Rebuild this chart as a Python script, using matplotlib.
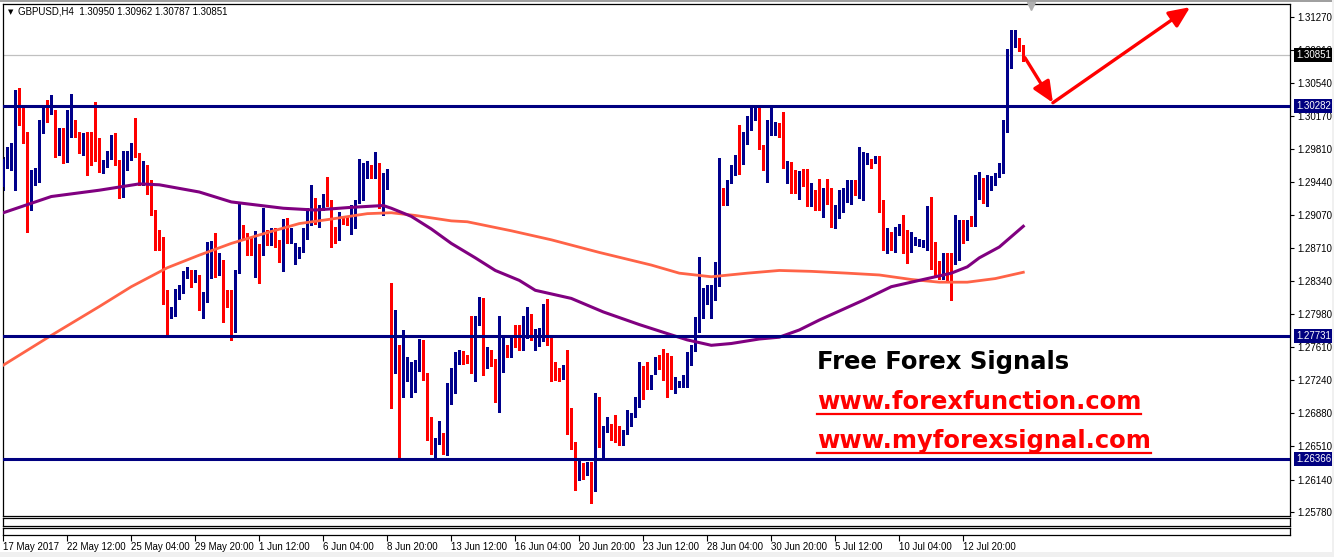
import matplotlib.pyplot as plt
from matplotlib.lines import Line2D
from matplotlib.patches import Rectangle

plt.rcParams['font.family'] = ['Liberation Sans', 'DejaVu Sans']

# GBPUSD H4 candles (bar index 0 = first visible bar)
opens = [
    1.2939, 1.2968, 1.2970, 1.2971, 1.3019, 1.3016, 1.2993, 1.2920,
    1.2952, 1.2954, 1.3000, 1.3023, 1.3021, 1.3000, 1.2980, 1.2998,
    1.2974, 1.3009, 1.3012, 1.2994, 1.2980, 1.2991, 1.2985, 1.2983,
    1.2991, 1.2955, 1.2964, 1.2973, 1.2991, 1.2967, 1.2931, 1.2957,
    1.2969, 1.2985, 1.2975, 1.2956, 1.2958, 1.2931, 1.2910, 1.2881,
    1.2872, 1.2814, 1.2794, 1.2797, 1.2823, 1.2827, 1.2839, 1.2846,
    1.2840, 1.2839, 1.2803, 1.2812, 1.2847, 1.2859, 1.2842, 1.2857,
    1.2818, 1.2811, 1.2779, 1.2843, 1.2889, 1.2885, 1.2880, 1.2868,
    1.2873, 1.2864, 1.2885, 1.2877, 1.2889, 1.2875, 1.2856, 1.2885,
    1.2883, 1.2855, 1.2865, 1.2869, 1.2890, 1.2897, 1.2924, 1.2898,
    1.2915, 1.2927, 1.2923, 1.2890, 1.2883, 1.2905, 1.2902, 1.2897,
    1.2907, 1.2922, 1.2925, 1.2949, 1.2960, 1.2949, 1.2960, 1.2922,
    1.2936, 1.2822, 1.2735, 1.2762, 1.2718, 1.2724, 1.2739, 1.2711,
    1.2742, 1.2752, 1.2730, 1.2674, 1.2650, 1.2657, 1.2664, 1.2654,
    1.2699, 1.2721, 1.2743, 1.2752, 1.2748, 1.2746, 1.2740, 1.2787,
    1.2794, 1.2740, 1.2752, 1.2746, 1.2704, 1.2739, 1.2757, 1.2752,
    1.2773, 1.2769, 1.2766, 1.2775, 1.2784, 1.2761, 1.2769, 1.2769,
    1.2805, 1.2769, 1.2743, 1.2733, 1.2727, 1.2737, 1.2691, 1.2651,
    1.2624, 1.2628, 1.2621, 1.2631, 1.2607, 1.2701, 1.2657, 1.2670,
    1.2674, 1.2672, 1.2662, 1.2654, 1.2666, 1.2680, 1.2686, 1.2700,
    1.2731, 1.2723, 1.2715, 1.2731, 1.2746, 1.2742, 1.2738, 1.2737,
    1.2724, 1.2718, 1.2718, 1.2729, 1.2747, 1.2758, 1.2781, 1.2813,
    1.2813, 1.2817, 1.2826, 1.2830, 1.2931, 1.2920, 1.2945, 1.2953,
    1.2974, 1.2967, 1.2987, 1.3004, 1.3017, 1.3024, 1.2984, 1.2969,
    1.3007, 1.2997, 1.3007, 1.2996, 1.2961, 1.2966, 1.2957, 1.2933,
    1.2952, 1.2951, 1.2924, 1.2930, 1.2928, 1.2905, 1.2933, 1.2924,
    1.2902, 1.2913, 1.2922, 1.2930, 1.2930, 1.2940, 1.2931, 1.2950,
    1.2968, 1.2968, 1.2967, 1.2969, 1.2923, 1.2874, 1.2886, 1.2869,
    1.2888, 1.2893, 1.2878, 1.2876, 1.2876, 1.2874, 1.2876, 1.2870,
    1.2912, 1.2876, 1.2848, 1.2847, 1.2863, 1.2854, 1.2853, 1.2891,
    1.2899, 1.2891, 1.2899, 1.2896, 1.2927, 1.2942, 1.2922, 1.2936,
    1.2942, 1.2952, 1.2955, 1.3011, 1.3078, 1.3094, 1.3102, 1.30950,
]
highs = [
    1.2972, 1.2983, 1.2987, 1.3046, 1.3048, 1.3028, 1.3000, 1.2957,
    1.2960, 1.3013, 1.3029, 1.3035, 1.3041, 1.3024, 1.3004, 1.3004,
    1.3024, 1.3042, 1.3013, 1.3000, 1.2998, 1.3000, 1.3000, 1.3033,
    1.2993, 1.2968, 1.2978, 1.2996, 1.2998, 1.2968, 1.2978, 1.2978,
    1.2987, 1.3015, 1.2976, 1.2967, 1.2963, 1.2946, 1.2913, 1.2891,
    1.2883, 1.2824, 1.2806, 1.2825, 1.2830, 1.2845, 1.2850, 1.2846,
    1.2846, 1.2841, 1.2822, 1.2878, 1.2879, 1.2887, 1.2865, 1.2858,
    1.2824, 1.2824, 1.2846, 1.2920, 1.2896, 1.2887, 1.2883, 1.2890,
    1.2875, 1.2915, 1.2891, 1.2893, 1.2893, 1.2880, 1.2903, 1.2904,
    1.2893, 1.2876, 1.2872, 1.2893, 1.2915, 1.2941, 1.2926, 1.2919,
    1.2931, 1.2950, 1.2924, 1.2894, 1.2911, 1.2906, 1.2905, 1.2919,
    1.2924, 1.2970, 1.2965, 1.2967, 1.2963, 1.2977, 1.2965, 1.2954,
    1.2958, 1.2832, 1.2802, 1.2763, 1.2780, 1.2750, 1.2745, 1.2747,
    1.2770, 1.2769, 1.2732, 1.2684, 1.2660, 1.2679, 1.2666, 1.2721,
    1.2738, 1.2756, 1.2758, 1.2757, 1.2752, 1.2796, 1.2796, 1.2817,
    1.2815, 1.2761, 1.2758, 1.2748, 1.2795, 1.2772, 1.2763, 1.2774,
    1.2785, 1.2785, 1.2796, 1.2806, 1.2798, 1.2781, 1.2782, 1.2809,
    1.2814, 1.2771, 1.2745, 1.2738, 1.2741, 1.2758, 1.2693, 1.2656,
    1.2636, 1.2633, 1.2634, 1.2634, 1.2710, 1.2706, 1.2673, 1.2684,
    1.2676, 1.2686, 1.2673, 1.2669, 1.2691, 1.2688, 1.2706, 1.2745,
    1.2740, 1.2745, 1.2730, 1.2750, 1.2752, 1.2759, 1.2754, 1.2751,
    1.2728, 1.2723, 1.2730, 1.2756, 1.2763, 1.2794, 1.2861, 1.2826,
    1.2830, 1.2830, 1.2855, 1.2971, 1.2938, 1.2946, 1.2963, 1.2974,
    1.3007, 1.3000, 1.3017, 1.3028, 1.3028, 1.3026, 1.2985, 1.3013,
    1.3028, 1.3011, 1.3010, 1.3022, 1.2967, 1.2966, 1.2957, 1.2956,
    1.2958, 1.2958, 1.2943, 1.2935, 1.2947, 1.2937, 1.2947, 1.2937,
    1.2919, 1.2935, 1.2937, 1.2946, 1.2946, 1.2946, 1.2983, 1.2977,
    1.2976, 1.2970, 1.2973, 1.2973, 1.2924, 1.2893, 1.2889, 1.2894,
    1.2898, 1.2907, 1.2891, 1.2889, 1.2883, 1.2881, 1.2880, 1.2917,
    1.2928, 1.2878, 1.2856, 1.2865, 1.2865, 1.2865, 1.2907, 1.2902,
    1.2902, 1.2902, 1.2906, 1.2952, 1.2955, 1.2949, 1.2952, 1.2951,
    1.2954, 1.2965, 1.3013, 1.3092, 1.3113, 1.3113, 1.3104, 1.30962,
]
lows = [
    1.2935, 1.2960, 1.2957, 1.2935, 1.3007, 1.2987, 1.2889, 1.2913,
    1.2941, 1.2944, 1.2998, 1.3011, 1.3019, 1.2972, 1.2974, 1.2965,
    1.2966, 1.2994, 1.2994, 1.2976, 1.2974, 1.2952, 1.2963, 1.2967,
    1.2955, 1.2954, 1.2961, 1.2970, 1.2963, 1.2926, 1.2928, 1.2957,
    1.2968, 1.2972, 1.2941, 1.2941, 1.2931, 1.2907, 1.2869, 1.2869,
    1.2809, 1.2773, 1.2793, 1.2796, 1.2814, 1.2821, 1.2838, 1.2828,
    1.2833, 1.2802, 1.2793, 1.2811, 1.2838, 1.2839, 1.2841, 1.2789,
    1.2806, 1.2769, 1.2778, 1.2843, 1.2882, 1.2863, 1.2863, 1.2839,
    1.2832, 1.2863, 1.2874, 1.2874, 1.2872, 1.2855, 1.2845, 1.2876,
    1.2877, 1.2853, 1.2860, 1.2866, 1.2881, 1.2896, 1.2898, 1.2894,
    1.2913, 1.2917, 1.2872, 1.2877, 1.2880, 1.2898, 1.2896, 1.2886,
    1.2893, 1.2921, 1.2924, 1.2948, 1.2948, 1.2948, 1.2915, 1.2907,
    1.2936, 1.2693, 1.2732, 1.2636, 1.2706, 1.2723, 1.2706, 1.2711,
    1.2735, 1.2724, 1.2658, 1.2643, 1.2638, 1.2654, 1.2643, 1.2641,
    1.2698, 1.2710, 1.2742, 1.2742, 1.2743, 1.2732, 1.2723, 1.2785,
    1.2730, 1.2738, 1.2740, 1.2700, 1.2689, 1.2733, 1.2750, 1.2750,
    1.2761, 1.2758, 1.2758, 1.2771, 1.2769, 1.2758, 1.2762, 1.2768,
    1.2763, 1.2723, 1.2725, 1.2723, 1.2726, 1.2665, 1.2648, 1.2602,
    1.2614, 1.2615, 1.2619, 1.2588, 1.2601, 1.2650, 1.2639, 1.2667,
    1.2658, 1.2656, 1.2652, 1.2652, 1.2665, 1.2674, 1.2684, 1.2695,
    1.2704, 1.2714, 1.2715, 1.2731, 1.2737, 1.2725, 1.2706, 1.2714,
    1.2710, 1.2717, 1.2717, 1.2717, 1.2741, 1.2757, 1.2778, 1.2793,
    1.2809, 1.2793, 1.2813, 1.2829, 1.2919, 1.2919, 1.2943, 1.2952,
    1.2953, 1.2964, 1.2986, 1.3002, 1.3013, 1.2981, 1.2957, 1.2944,
    1.2996, 1.2996, 1.2994, 1.2960, 1.2943, 1.2932, 1.2932, 1.2925,
    1.2940, 1.2917, 1.2917, 1.2913, 1.2913, 1.2905, 1.2920, 1.2894,
    1.2893, 1.2904, 1.2911, 1.2922, 1.2920, 1.2930, 1.2926, 1.2924,
    1.2964, 1.2960, 1.2965, 1.2911, 1.2869, 1.2865, 1.2869, 1.2867,
    1.2885, 1.2865, 1.2854, 1.2867, 1.2874, 1.2873, 1.2872, 1.2869,
    1.2848, 1.2839, 1.2837, 1.2837, 1.2835, 1.2813, 1.2853, 1.2858,
    1.2876, 1.2880, 1.2895, 1.2895, 1.2925, 1.2921, 1.2918, 1.2935,
    1.2941, 1.2950, 1.2954, 1.2999, 1.3070, 1.3094, 1.3089, 1.30787,
]
closes = [
    1.2970, 1.2970, 1.2971, 1.3018, 1.3016, 1.2989, 1.2935, 1.2952,
    1.2957, 1.3002, 1.3023, 1.3021, 1.3033, 1.2980, 1.2998, 1.2974,
    1.3009, 1.3012, 1.2998, 1.2980, 1.2991, 1.2984, 1.2983, 1.2979,
    1.2959, 1.2965, 1.2974, 1.2991, 1.2965, 1.2931, 1.2974, 1.2970,
    1.2985, 1.2975, 1.2956, 1.2958, 1.2931, 1.2909, 1.2880, 1.2872,
    1.2814, 1.2794, 1.2804, 1.2824, 1.2828, 1.2839, 1.2846, 1.2834,
    1.2843, 1.2803, 1.2813, 1.2848, 1.2859, 1.2842, 1.2857, 1.2817,
    1.2809, 1.2779, 1.2845, 1.2889, 1.2888, 1.2874, 1.2868, 1.2873,
    1.2864, 1.2884, 1.2880, 1.2889, 1.2874, 1.2856, 1.2884, 1.2883,
    1.2890, 1.2865, 1.2871, 1.2891, 1.2897, 1.2924, 1.2902, 1.2915,
    1.2927, 1.2922, 1.2889, 1.2883, 1.2907, 1.2902, 1.2897, 1.2913,
    1.2923, 1.2926, 1.2959, 1.2960, 1.2949, 1.2960, 1.2922, 1.2937,
    1.2943, 1.2735, 1.2762, 1.2718, 1.2725, 1.2740, 1.2741, 1.2745,
    1.2752, 1.2729, 1.2673, 1.2650, 1.2659, 1.2664, 1.2654, 1.2699,
    1.2721, 1.2745, 1.2752, 1.2747, 1.2746, 1.2740, 1.2788, 1.2793,
    1.2750, 1.2752, 1.2744, 1.2704, 1.2739, 1.2757, 1.2754, 1.2773,
    1.2769, 1.2766, 1.2777, 1.2784, 1.2772, 1.2769, 1.2774, 1.2805,
    1.2769, 1.2743, 1.2736, 1.2727, 1.2737, 1.2691, 1.2650, 1.2624,
    1.2628, 1.2621, 1.2632, 1.2607, 1.2701, 1.2657, 1.2671, 1.2673,
    1.2672, 1.2661, 1.2654, 1.2667, 1.2681, 1.2686, 1.2700, 1.2731,
    1.2723, 1.2717, 1.2718, 1.2746, 1.2741, 1.2738, 1.2736, 1.2723,
    1.2725, 1.2721, 1.2729, 1.2748, 1.2760, 1.2781, 1.2813, 1.2821,
    1.2820, 1.2828, 1.2831, 1.2931, 1.2920, 1.2945, 1.2953, 1.2974,
    1.2967, 1.2989, 1.3004, 1.3017, 1.3024, 1.2983, 1.2969, 1.3007,
    1.3026, 1.3007, 1.2995, 1.2961, 1.2966, 1.2950, 1.2933, 1.2952,
    1.2950, 1.2924, 1.2930, 1.2925, 1.2916, 1.2933, 1.2923, 1.2902,
    1.2915, 1.2922, 1.2933, 1.2932, 1.2940, 1.2931, 1.2951, 1.2968,
    1.2970, 1.2962, 1.2969, 1.2922, 1.2874, 1.2886, 1.2880, 1.2889,
    1.2893, 1.2867, 1.2867, 1.2878, 1.2880, 1.2878, 1.2877, 1.2912,
    1.2876, 1.2847, 1.2843, 1.2863, 1.2852, 1.2851, 1.2891, 1.2899,
    1.2883, 1.2899, 1.2896, 1.2928, 1.2942, 1.2922, 1.2938, 1.2943,
    1.2953, 1.2957, 1.3011, 1.3079, 1.3102, 1.3102, 1.3094, 1.30851,
]

# moving averages, sampled at these bars
ma_slow_bars = [0, 12, 24, 34, 39, 49, 57, 70, 78, 87, 95, 97, 102, 107, 112,
                118, 123, 129, 133, 142, 150, 159, 166, 171, 177, 182, 189,
                194, 199, 204, 210, 215, 222, 232, 237, 241, 244, 249, 255]
ma_slow = [1.2910, 1.2928, 1.2935, 1.2942, 1.2941, 1.2933, 1.2922, 1.2915,
           1.2913, 1.2916, 1.2918, 1.2915, 1.2906, 1.2892, 1.2876, 1.2860,
           1.2846, 1.2835, 1.2824, 1.2815, 1.2800, 1.2786, 1.2776, 1.2769,
           1.2763, 1.2765, 1.2770, 1.2772, 1.2780, 1.2791, 1.2803, 1.2813,
           1.2828, 1.2838, 1.2843, 1.2850, 1.2860, 1.2872, 1.2895]
ma_long_bars = [0, 12, 24, 32, 41, 49, 57, 66, 74, 82, 91, 97, 103, 112, 116,
                127, 137, 149, 162, 169, 177, 186, 194, 202, 211, 219, 227,
                234, 241, 248, 255]
ma_long = [1.2741, 1.2774, 1.2806, 1.2828, 1.2849, 1.2863, 1.2876, 1.2888,
           1.2898, 1.2903, 1.2909, 1.2910, 1.2907, 1.2901, 1.2900, 1.2890,
           1.2880, 1.2866, 1.2852, 1.2843, 1.2839, 1.2843, 1.2846, 1.2845,
           1.2843, 1.2841, 1.2836, 1.2833, 1.2833, 1.2837, 1.2844]

levels = [1.30282, 1.27731, 1.26366]
last_price = 1.30851
price_ticks = [1.31270, 1.30910, 1.30540, 1.30170, 1.29810, 1.29440, 1.29070,
               1.28710, 1.28340, 1.27980, 1.27610, 1.27240, 1.26880, 1.26510,
               1.26140, 1.25780]
time_bars = [0, 16, 32, 48, 64, 80, 96, 112, 128, 144, 160, 176, 192, 208, 224, 240]
time_labels = ['17 May 2017', '22 May 12:00', '25 May 04:00', '29 May 20:00',
               '1 Jun 12:00', '6 Jun 04:00', '8 Jun 20:00', '13 Jun 12:00',
               '16 Jun 04:00', '20 Jun 20:00', '23 Jun 12:00', '28 Jun 04:00',
               '30 Jun 20:00', '5 Jul 12:00', '10 Jul 04:00', '12 Jul 20:00']
# forecast arrows: start, turn, target
arrow_bars = [255.4, 262.4, 296.7]
arrow_prices = [1.3082, 1.3032, 1.3138]

W, H = 1334, 557
fig = plt.figure(figsize=(W / 100, H / 100), dpi=100)
fig.patch.set_facecolor('white')


def pane(x0, y0, x1, y1):
    return fig.add_axes([x0 / W, 1 - y1 / H, (x1 - x0) / W, (y1 - y0) / H])


xlim = (-0.075, 321.675)
ax = pane(3, 4, 1290, 516)
ax.set_xlim(*xlim)
ax.set_ylim(1.25737, 1.31415)

bull, bear = '#00008B', '#FF0000'
navy = '#000080'
bars = list(range(len(opens)))
cols = [bull if c >= o else bear for o, c in zip(opens, closes)]
bottoms = [min(o, c) for o, c in zip(opens, closes)]
heights = [max(abs(c - o), 0.00011) for o, c in zip(opens, closes)]

ax.axhline(last_price, color='#C0C0C0', lw=0.9, zorder=1)
ax.vlines(bars, lows, highs, colors=cols, lw=0.75, antialiased=False, zorder=2)
ax.bar(bars, heights, bottom=bottoms, width=0.8, color=cols, linewidth=0,
       antialiased=False, zorder=3)
ax.plot(ma_long_bars, ma_long, color='#FF6347', lw=2.0, zorder=4)
ax.plot(ma_slow_bars, ma_slow, color='#800080', lw=2.2, zorder=4)
for lv in levels:
    ax.axhline(lv, color=navy, lw=2.2, zorder=5)

for k in range(2):
    ax.annotate('', xy=(arrow_bars[k + 1], arrow_prices[k + 1]),
                xytext=(arrow_bars[k], arrow_prices[k]),
                arrowprops=dict(arrowstyle='-|>,head_length=0.9,head_width=0.4',
                                color='#FF0000', lw=2.4, mutation_scale=14,
                                shrinkA=0, shrinkB=0), zorder=6)

ax.set_xticks([])
ax.yaxis.tick_right()
ax.set_yticks(price_ticks)
ax.set_yticklabels(['%.5f' % t for t in price_ticks])
ax.tick_params(axis='y', direction='out', length=3, width=0.8, labelsize=7, pad=2)
for s in ax.spines.values():
    s.set_linewidth(0.9)

ytr = ax.get_yaxis_transform()
for lv in levels:
    ax.text(1.0047, lv, '%.5f' % lv, transform=ytr, color='white', fontsize=7,
            va='center', ha='left', clip_on=False, zorder=10,
            bbox=dict(boxstyle='square,pad=0.2', fc=navy, ec='none'))
ax.text(1.0047, last_price, '%.5f' % last_price, transform=ytr, color='white',
        fontsize=7, va='center', ha='left', clip_on=False, zorder=10,
        bbox=dict(boxstyle='square,pad=0.2', fc='black', ec='none'))

# empty indicator sub-windows
for y0, y1, last in [(518, 526, False), (528, 535, True)]:
    sub = pane(3, y0, 1290, y1)
    sub.set_xlim(*xlim)
    sub.set_yticks([])
    for s in sub.spines.values():
        s.set_linewidth(0.9)
    if last:
        sub.set_xticks(time_bars)
        sub.set_xticklabels(time_labels, ha='left')
        sub.tick_params(axis='x', direction='out', length=4, width=0.8,
                        labelsize=7, pad=1)
    else:
        sub.set_xticks([])

# window chrome
fig.add_artist(Rectangle((0, 1 - 2 / H), 1, 2 / H, transform=fig.transFigure,
                         fc='#A0A0A0', ec='none'))
fig.add_artist(Rectangle((0, 0), 1, 5 / H, transform=fig.transFigure,
                         fc='#F0F0F0', ec='none'))
fig.add_artist(Rectangle((1 - 2 / W, 0), 2 / W, 1, transform=fig.transFigure,
                         fc='#F0F0F0', ec='none'))
fig.add_artist(Line2D([1031 / W], [1 - 6 / H], marker='v', ms=6, color='#B0B0B0',
                      transform=fig.transFigure))

fig.text(8 / W, 1 - 12 / H, '\u25BC', fontsize=5, va='center', ha='left',
         family=['DejaVu Sans'])
fig.text(18 / W, 1 - 12 / H, 'GBPUSD,H4  1.30950 1.30962 1.30787 1.30851',
         fontsize=7, va='center', ha='left')

# promo text
fig.text(817 / W, 1 - 369 / H, 'Free Forex Signals', fontsize=17.5,
         fontweight='bold', color='black', va='baseline', ha='left',
         family=['DejaVu Sans'])
urls = []
for txt, base in [('www.forexfunction.com', 409), ('www.myforexsignal.com', 448)]:
    t = fig.text(817 / W, 1 - base / H, txt, fontsize=17.5, fontweight='bold',
                 color='#FF0000', va='baseline', ha='left', family=['DejaVu Sans'])
    urls.append((t, base))

fig.canvas.draw()
r = fig.canvas.get_renderer()
for t, base in urls:
    bb = t.get_window_extent(r)
    y = 1 - (base + 5) / H
    fig.add_artist(Line2D([bb.x0 / W, bb.x1 / W], [y, y], color='#FF0000',
                          lw=1.6, transform=fig.transFigure))

fig.savefig('out.png', dpi=100)
